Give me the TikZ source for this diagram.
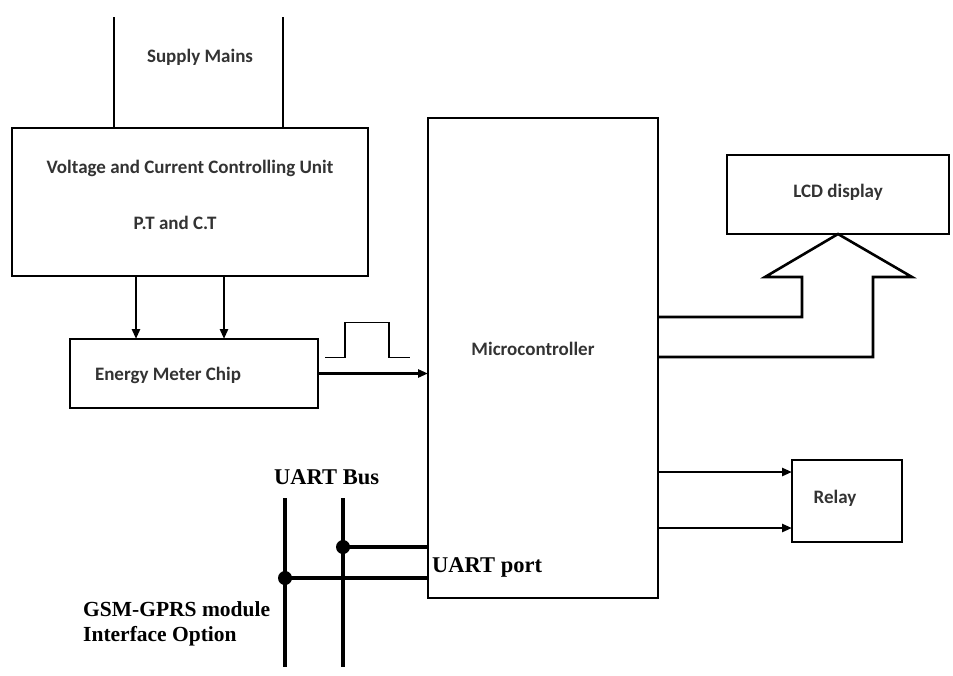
\documentclass[tikz,border=0pt]{standalone}
\usepackage{fontspec}
\usetikzlibrary{calc, arrows.meta}
\newfontfamily\blockfont{Carlito}
\newfontfamily\busfont{Liberation Serif}
\tikzset{
  block/.style={draw, line width=2.8pt, inner sep=0pt, outer sep=0pt},
  blocktext/.style={font=\blockfont\bfseries\fontsize{19}{22}\selectfont, text=black!80},
  bustext/.style={font=\busfont\bfseries\fontsize{22.5}{25}\selectfont, anchor=west, inner sep=0pt},
  wire/.style={line width=2.6pt},
  arr/.style={wire, -{Triangle[length=10pt, width=8pt]}},
  bus/.style={line width=4.8pt},
  busdot/.style={circle, fill, inner sep=0pt, minimum size=14pt}
}
\begin{document}
\begin{tikzpicture}[x=1pt, y=-1pt]
                \useasboundingbox (0,0) rectangle (953,675);
                \node[block, minimum width=356pt, minimum height=148pt] (vccu) at (190,202) {};
                \node[block, minimum width=248pt, minimum height=69pt] (emc) at (194,373.5) {};
                \node[block, minimum width=230pt, minimum height=480pt] (mcu) at (543,358) {};
                \node[block, minimum width=222pt, minimum height=79pt] (lcd) at (838,194.5) {};
                \node[block, minimum width=110pt, minimum height=82pt] (relay) at (847,501) {};
                \node[blocktext] (mains) at (200,57) {Supply Mains};
                \node[blocktext] (vccutext) at (190,168) {Voltage and Current Controlling Unit};
                \node[blocktext] (ptct) at (175,223) {P.T and C.T};
                \node[blocktext] (emctext) at (168,375) {Energy Meter Chip};
                \node[blocktext] (mcutext) at (533,349) {Microcontroller};
                \node[blocktext] (lcdtext) at (838,192) {LCD display};
                \node[blocktext] (relaytext) at (835,498) {Relay};
                \node[bustext] (bustitle) at (274,477) {UART Bus};
                \node[bustext] (port) at (432,567) {UART port};
                \node[bustext, align=left, font=\busfont\bfseries\fontsize{21.5}{25}\selectfont] (gsm) at (83,624) {GSM-GPRS module\\Interface Option};
                \coordinate (mainsA) at (114,17);
                \coordinate (mainsB) at (283,17);
                \draw[wire] (mainsA) -- (mainsA |- vccu.north);
                \draw[wire] (mainsB) -- (mainsB |- vccu.north);
                \draw[arr] ([xshift=-54pt]vccu.south) -- ([xshift=-54pt]vccu.south |- emc.north);
                \draw[arr] ([xshift=34pt]vccu.south) -- ([xshift=34pt]vccu.south |- emc.north);
                \draw[arr] (emc.east) -- (emc.east -| mcu.west);
                \draw[line width=1.6pt] ($(emc.east)+(7,-16)$) -- ++(20,0) -- ++(0,-35) -- ++(44,0) -- ++(0,35) -- ++(21,0);
                \draw[wire, line join=miter] (mcu.east |- 0,317) -- (802,317) -- (802,277) -- (765,277) -- (lcd.south)
                                        -- (912,277) -- (873,277) -- (873,357) -- (mcu.east |- 0,357);
                \draw[arr] ([yshift=29pt]relay.west -| mcu.east) -- ([yshift=29pt]relay.west);
                \draw[arr] ([yshift=-27pt]relay.west -| mcu.east) -- ([yshift=-27pt]relay.west);
                \coordinate (busA) at (285,498);
                \coordinate (busB) at (343,498);
                \draw[bus] (busA) -- ++(0,169);
                \draw[bus] (busB) -- ++(0,169);
                \node[busdot] (dotB) at (343,547) {};
                \node[busdot] (dotA) at (285,578) {};
                \draw[bus] (dotB.center) -- (dotB.center -| mcu.west);
                \draw[bus] (dotA.center) -- (dotA.center -| mcu.west);
                \end{tikzpicture}
\end{document}
